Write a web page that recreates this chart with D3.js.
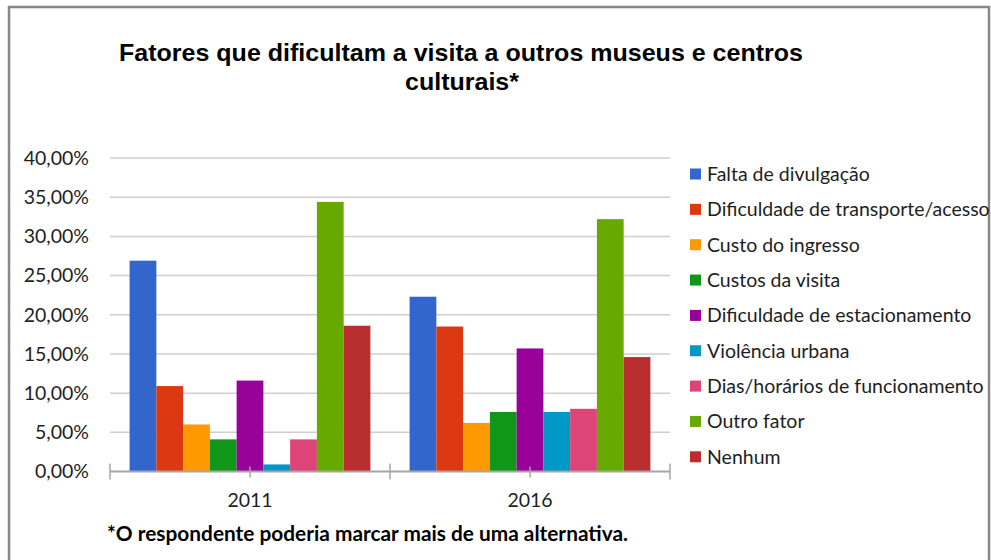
<!DOCTYPE html>
<html>
<head>
<meta charset="utf-8">
<script src="https://cdn.jsdelivr.net/npm/d3@7"></script>
<style>
  body { margin: 0; background: #fff; }
  svg { display: block; }
</style>
</head>
<body>
<svg id="chart" width="991" height="560"></svg>
<script>
const years = ['2011', '2016'];
const factors = [
    'Falta de divulgação',
    'Dificuldade de transporte/acesso',
    'Custo do ingresso',
    'Custos da visita',
    'Dificuldade de estacionamento',
    'Violência urbana',
    'Dias/horários de funcionamento',
    'Outro fator',
    'Nenhum',
];
const values2011 = [26.9, 10.9, 6.0, 4.1, 11.6, 0.9, 4.1, 34.4, 18.6];
const values2016 = [22.3, 18.5, 6.2, 7.6, 15.7, 7.6, 8.0, 32.2, 14.6];
const colors = ['#3366cc', '#dc3912', '#ff9900', '#109618', '#990099', '#0099c6', '#dd4477', '#66aa00', '#b82e2e'];
const yTicks = [0, 5, 10, 15, 20, 25, 30, 35, 40];

const BODY_FONT = 'Lato, "Open Sans", sans-serif';
const TEXT_COLOR = '#1e1e1e';
const FONT_SIZE = 19.5;

const svg = d3.select('#chart');
const plot = { left: 110, right: 670, top: 158, bottom: 471.5 };

// outer frame
svg.append('rect')
    .attr('x', 9).attr('y', 7)
    .attr('width', 980).attr('height', 560)
    .attr('fill', 'none')
    .attr('stroke', '#888')
    .attr('stroke-width', 2.5);

// title
const title = svg.append('text')
    .attr('font-family', '"Liberation Sans", Arial, sans-serif')
    .attr('font-weight', 'bold')
    .attr('font-size', 24)
    .attr('fill', '#000')
    .attr('text-anchor', 'middle');
title.append('tspan')
    .attr('x', 461).attr('y', 61)
    .attr('textLength', 684)
    .attr('lengthAdjust', 'spacingAndGlyphs')
    .text('Fatores que dificultam a visita a outros museus e centros');
title.append('tspan')
    .attr('x', 462).attr('y', 90)
    .attr('textLength', 114)
    .attr('lengthAdjust', 'spacingAndGlyphs')
    .text('culturais*');

const y = d3.scaleLinear()
    .domain([0, 40])
    .range([plot.bottom, plot.top]);

const x0 = d3.scaleBand()
    .domain(years)
    .range([plot.left, plot.right]);

const bw = x0.bandwidth();
const x1 = d3.scaleBand()
    .domain(factors)
    .range([bw * 0.07, bw * 0.93]);

// gridlines
svg.append('g')
    .selectAll('line')
    .data(yTicks.filter(d => d > 0))
    .join('line')
    .attr('x1', plot.left)
    .attr('x2', plot.right)
    .attr('y1', d => y(d))
    .attr('y2', d => y(d))
    .attr('stroke', '#cfcfcf')
    .attr('stroke-width', 1.5);

// y labels
svg.append('g')
    .selectAll('text')
    .data(yTicks)
    .join('text')
    .attr('x', 89)
    .attr('y', d => y(d))
    .attr('dy', '0.35em')
    .attr('text-anchor', 'end')
    .attr('font-family', BODY_FONT)
    .attr('font-size', FONT_SIZE)
    .attr('fill', TEXT_COLOR)
    .text(d => d3.format('.2f')(d).replace('.', ',') + '%');

// bars
const rows = years.map((yr, i) => ({
    year: yr,
    values: i === 0 ? values2011 : values2016,
}));

svg.append('g')
    .selectAll('g')
    .data(rows)
    .join('g')
    .attr('transform', d => `translate(${x0(d.year)},0)`)
    .selectAll('rect')
    .data(d => d.values.map((v, i) => ({ factor: factors[i], value: v, color: colors[i] })))
    .join('rect')
    .attr('x', d => x1(d.factor))
    .attr('y', d => y(d.value))
    .attr('width', x1.bandwidth())
    .attr('height', d => y(0) - y(d.value))
    .attr('fill', d => d.color);

// x axis line and ticks
const axis = svg.append('g').attr('stroke', '#a6a6a6');
axis.append('line')
    .attr('x1', plot.left).attr('x2', plot.right)
    .attr('y1', plot.bottom).attr('y2', plot.bottom)
    .attr('stroke-width', 2);
axis.selectAll('line.major')
    .data([plot.left, ...years.map(d => x0(d) + bw)])
    .join('line')
    .attr('class', 'major')
    .attr('x1', d => d).attr('x2', d => d)
    .attr('y1', plot.bottom - 8).attr('y2', plot.bottom + 8)
    .attr('stroke-width', 1.5);
axis.selectAll('line.minor')
    .data(years)
    .join('line')
    .attr('class', 'minor')
    .attr('x1', d => x0(d) + bw / 2).attr('x2', d => x0(d) + bw / 2)
    .attr('y1', plot.bottom - 5).attr('y2', plot.bottom + 6)
    .attr('stroke-width', 1.5);

// x labels
svg.append('g')
    .selectAll('text')
    .data(years)
    .join('text')
    .attr('x', d => x0(d) + bw / 2)
    .attr('y', 507)
    .attr('text-anchor', 'middle')
    .attr('font-family', BODY_FONT)
    .attr('font-size', FONT_SIZE)
    .attr('fill', TEXT_COLOR)
    .text(d => d);

// legend
const legend = svg.append('g')
    .selectAll('g')
    .data(factors)
    .join('g')
    .attr('transform', (d, i) => `translate(690,${174 + i * 35.35})`);
legend.append('rect')
    .attr('x', 0).attr('y', -5.5)
    .attr('width', 11).attr('height', 11)
    .attr('fill', (d, i) => colors[i]);
legend.append('text')
    .attr('x', 17)
    .attr('dy', '0.35em')
    .attr('font-family', BODY_FONT)
    .attr('font-size', FONT_SIZE)
    .attr('fill', TEXT_COLOR)
    .text(d => d);

// footnote
svg.append('text')
    .attr('x', 107)
    .attr('y', 541)
    .attr('font-family', BODY_FONT)
    .attr('font-weight', 'bold')
    .attr('font-size', 20)
    .attr('textLength', 521)
    .attr('lengthAdjust', 'spacingAndGlyphs')
    .attr('fill', '#000')
    .text('*O respondente poderia marcar mais de uma alternativa.');
</script>
</body>
</html>
